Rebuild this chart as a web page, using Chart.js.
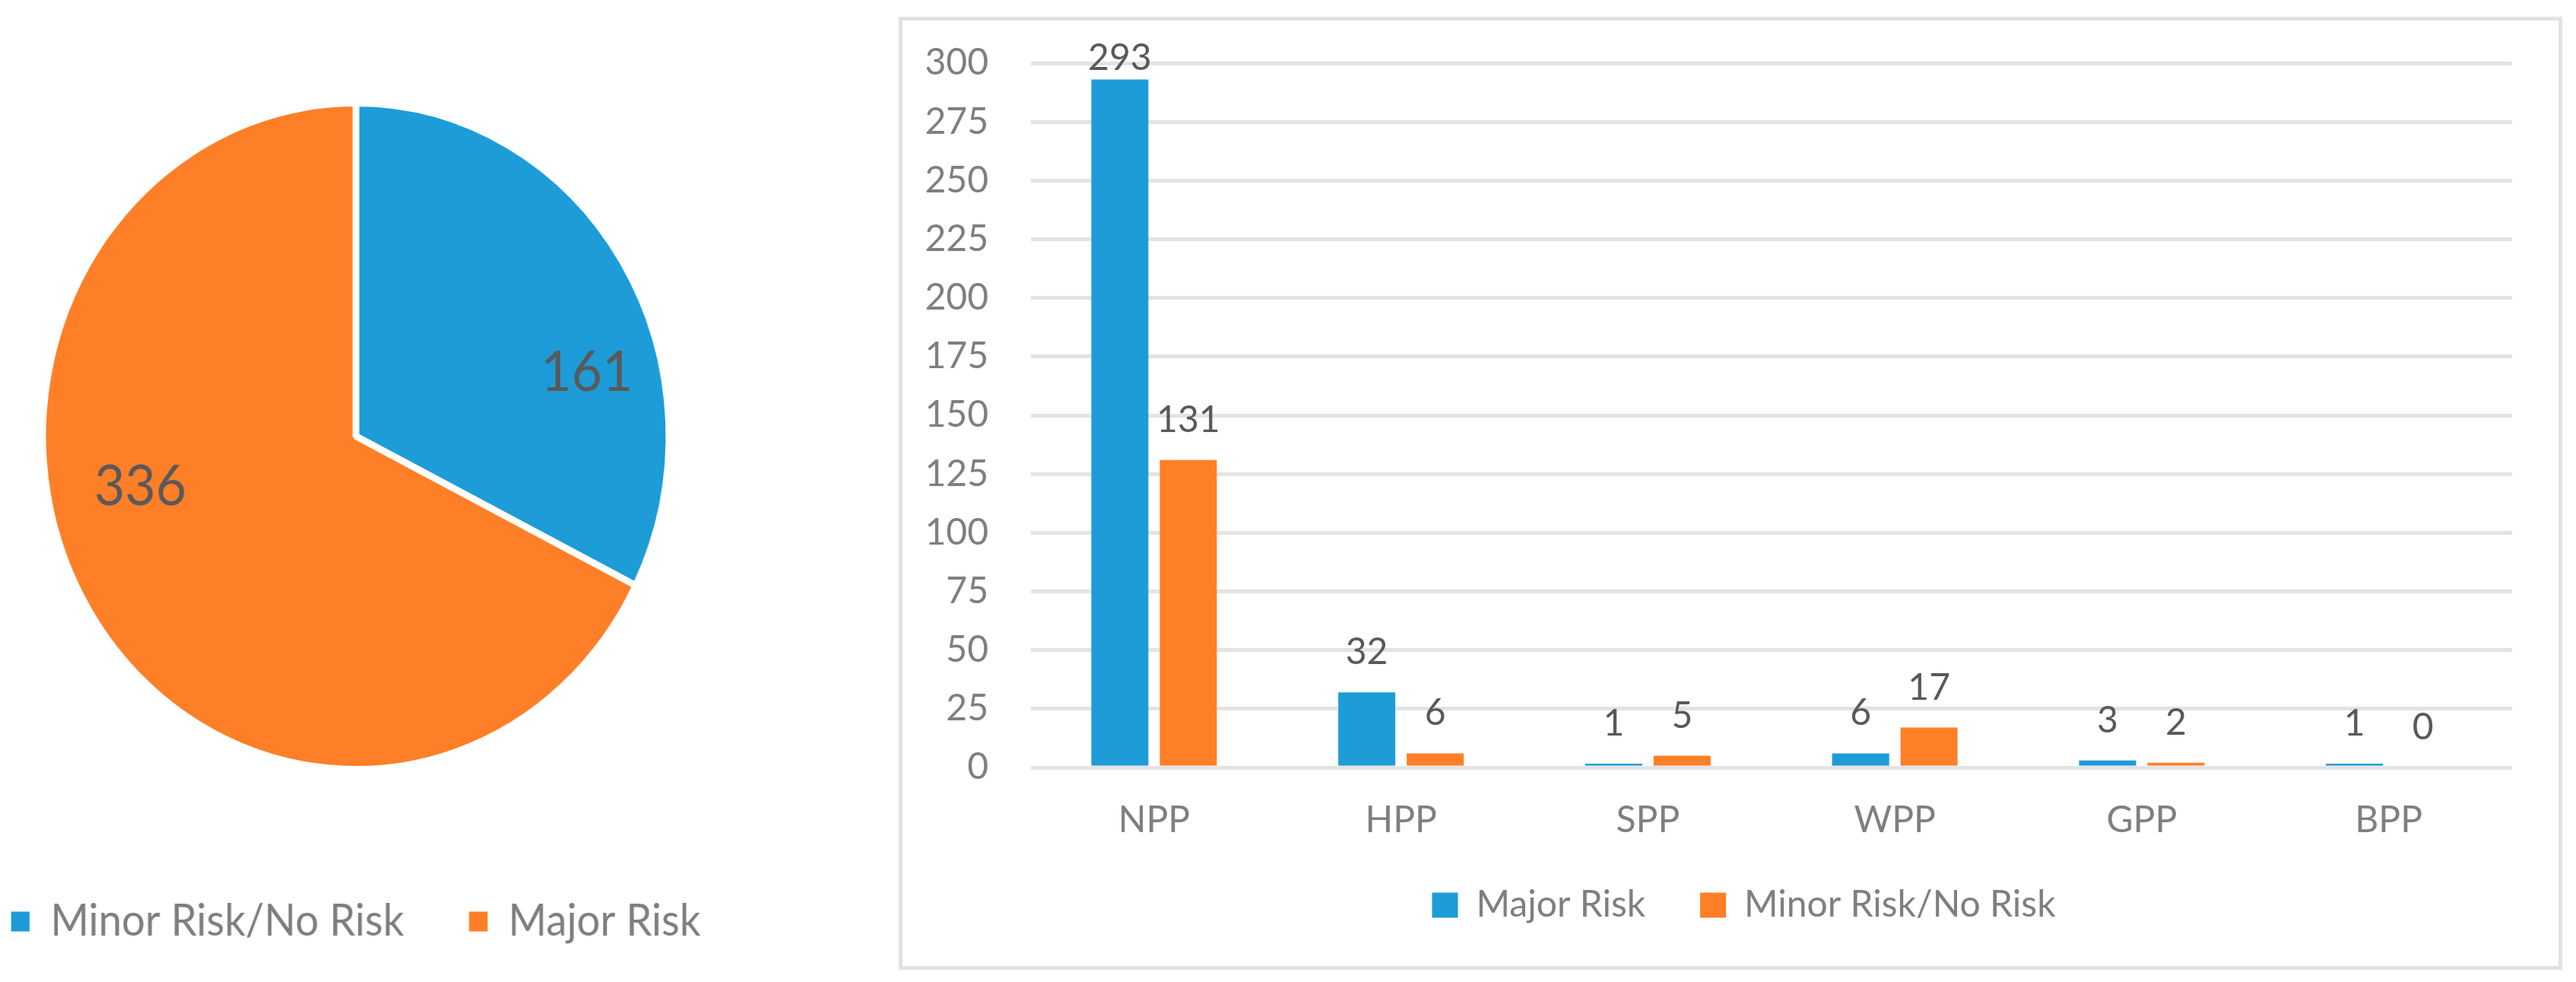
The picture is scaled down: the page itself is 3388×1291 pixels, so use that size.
<!DOCTYPE html>
<html><head><meta charset="utf-8">
<script src="https://cdn.jsdelivr.net/npm/chart.js@4.4.1/dist/chart.umd.min.js"></script>
<style>
html,body{margin:0;padding:0;background:#fff;width:3388px;height:1291px;overflow:hidden;position:relative}
#pieWrap{position:absolute;left:-96px;top:0;width:1200px;height:1291px;transform:scaleX(0.94);transform-origin:0 0}
#barBorder{position:absolute;left:1182px;top:22px;width:2178px;height:1243px;border:5px solid #e2e2e2}
#barWrap{position:absolute;left:1187px;top:27px;width:2213px;height:1243px}
canvas{display:block}
</style></head><body>
<div id="pieWrap"><canvas id="pie" width="1200" height="1291"></canvas></div>
<div id="barBorder"></div>
<div id="barWrap"><canvas id="bar" width="2213" height="1243"></canvas></div>
<script>
// ---- data ----
const pieLabels = ['Minor Risk/No Risk', 'Major Risk'];
const pieValues = [161, 336];
const categories = ['NPP', 'HPP', 'SPP', 'WPP', 'GPP', 'BPP'];
const seriesNames = ['Major Risk', 'Minor Risk/No Risk'];
const majorRisk = [293, 32, 1, 6, 3, 1];
const minorRisk = [131, 6, 5, 17, 2, 0];
const yMin = 0, yMax = 300, yStep = 25;

const BLUE = '#1d9cd8', ORANGE = '#fe7f27';
const FONT = 'Lato';

const pieLabelPlugin = {
  id: 'pieLabels',
  afterDatasetsDraw(chart, args, opts) {
    const ctx = chart.ctx;
    const meta = chart.getDatasetMeta(0);
    ctx.save();
    ctx.font = '74px ' + FONT;
    ctx.fillStyle = '#595959';
    ctx.textAlign = 'center';
    ctx.textBaseline = 'middle';
    meta.data.forEach((arc, i) => {
      const p = opts.place[i];
      const a = arc.startAngle + p.f * (arc.endAngle - arc.startAngle);
      const r = arc.outerRadius * p.r;
      ctx.fillText(String(chart.data.datasets[0].data[i]), arc.x + Math.cos(a) * r, arc.y + Math.sin(a) * r);
    });
    ctx.restore();
  }
};

const barLabelPlugin = {
  id: 'barLabels',
  afterDatasetsDraw(chart) {
    const ctx = chart.ctx;
    ctx.save();
    ctx.font = '48px ' + FONT;
    ctx.fillStyle = '#595959';
    ctx.textAlign = 'center';
    ctx.textBaseline = 'alphabetic';
    chart.data.datasets.forEach((ds, i) => {
      chart.getDatasetMeta(i).data.forEach((bar, j) => {
        const y = Math.max(bar.y - 37, chart.chartArea.top + 9);
        ctx.fillText(String(ds.data[j]), bar.x, y);
      });
    });
    ctx.restore();
  }
};

function build() {
  new Chart(document.getElementById('pie'), {
    type: 'pie',
    data: {
      labels: pieLabels,
      datasets: [{
        data: pieValues,
        backgroundColor: [BLUE, ORANGE],
        borderColor: '#ffffff',
        borderWidth: 9,
        radius: 438
      }]
    },
    options: {
      responsive: false,
      animation: false,
      devicePixelRatio: 1,
      layout: { padding: { top: 55.5, bottom: 40.5, left: 0, right: 0 } },
      plugins: {
        tooltip: { enabled: false },
        legend: {
          position: 'bottom',
          labels: {
            font: { family: FONT, size: 58 },
            color: '#7f7f7f',
            boxWidth: 26,
            boxHeight: 26,
            padding: 91,
            generateLabels: (chart) => Chart.overrides.pie.plugins.legend.labels.generateLabels(chart).map(l => Object.assign(l, { lineWidth: 0 }))
          }
        },
        pieLabels: { place: [{ f: 0.648, r: 0.762 }, { f: 0.579, r: 0.705 }] }
      }
    },
    plugins: [pieLabelPlugin]
  });

  new Chart(document.getElementById('bar'), {
    type: 'bar',
    data: {
      labels: categories,
      datasets: [
        { label: seriesNames[0], data: majorRisk, backgroundColor: BLUE, borderWidth: 0, yAxisID: 'y', minBarLength: 5 },
        { label: seriesNames[1], data: minorRisk, backgroundColor: ORANGE, borderWidth: 0, yAxisID: 'y' }
      ]
    },
    options: {
      responsive: false,
      animation: false,
      devicePixelRatio: 1,
      categoryPercentage: 0.5543,
      barPercentage: 0.8333,
      layout: { padding: { top: 56, bottom: 46, left: 0, right: 0 } },
      scales: {
        x: {
          grid: { display: false, drawTicks: false },
          border: { display: false },
          ticks: { color: '#7f7f7f', font: { family: FONT, size: 48 }, padding: 41 },
          afterFit: (s) => { s.height = 85; }
        },
        y: {
          position: 'left',
          min: yMin, max: yMax,
          grid: { color: '#e3e3e3', lineWidth: 5, drawTicks: false },
          border: { display: false },
          ticks: { stepSize: yStep, color: '#7f7f7f', font: { family: FONT, size: 48, lineHeight: 0.1 }, padding: 55.5 },
          afterFit: (s) => { s.width = 168.5; s.paddingTop = 0; s.paddingBottom = 0; }
        },
        spacer: {
          type: 'linear',
          position: 'right',
          display: true,
          grid: { display: false, drawTicks: false },
          border: { display: false },
          ticks: { display: false },
          afterFit: (s) => { s.width = 96; s.paddingTop = 0; s.paddingBottom = 0; }
        }
      },
      plugins: {
        tooltip: { enabled: false },
        legend: {
          position: 'bottom',
          labels: {
            font: { family: FONT, size: 48 },
            color: '#7f7f7f',
            boxWidth: 34,
            boxHeight: 33,
            padding: 72
          }
        }
      }
    },
    plugins: [barLabelPlugin]
  });
}

const loads = [document.fonts.load('48px Lato'), document.fonts.load('58px Lato'), document.fonts.load('74px Lato')];
Promise.all(loads).then(build, build);
</script>
</body></html>
